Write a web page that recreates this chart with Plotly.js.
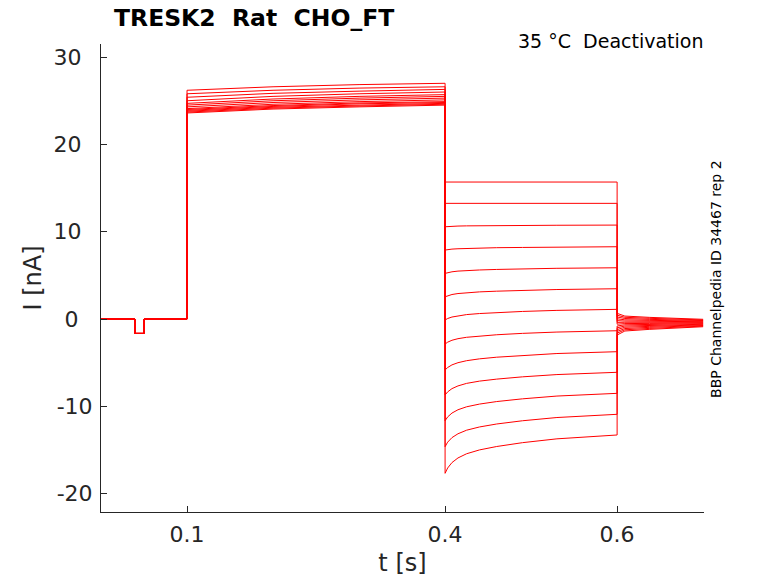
<!DOCTYPE html>
<html>
<head>
<meta charset="utf-8">
<script src="https://cdn.plot.ly/plotly-3.0.1.min.js"></script>
<style>
  body { margin: 0; background: #fff; }
  #plot { width: 778px; height: 583px; }
</style>
</head>
<body>
<div id="plot"></div>
<script>
// holding + small leak test pulse (same for every sweep)
var tPre = [0, 0.0395, 0.0395, 0.05, 0.05, 0.1];
var iPre = [0, 0, -1.65, -1.65, 0, 0];

// activating step, 0.1 - 0.4 s
var tAct = [0.1, 0.2, 0.3, 0.4];
var iAct = [
  [26.2, 26.6, 26.85, 27.0],
  [25.8, 26.2, 26.45, 26.6],
  [25.4, 25.85, 26.1, 26.3],
  [25.0, 25.5, 25.8, 26.0],
  [24.7, 25.2, 25.5, 25.7],
  [24.5, 25.0, 25.3, 25.5],
  [24.3, 24.8, 25.1, 25.3],
  [24.1, 24.6, 24.9, 25.1],
  [24.0, 24.45, 24.75, 24.9],
  [23.9, 24.35, 24.65, 24.8],
  [23.8, 24.25, 24.5, 24.7],
  [23.7, 24.15, 24.4, 24.6],
  [23.6, 24.05, 24.3, 24.5]
];

// deactivation steps, 0.4 - 0.6 s
var tDeact = [0.4, 0.403, 0.408, 0.415, 0.425, 0.44, 0.46, 0.49, 0.53, 0.6];
var iDeact = [
  [15.69, 15.69, 15.69, 15.69, 15.69, 15.69, 15.69, 15.69, 15.69, 15.69],
  [13.25, 13.25, 13.25, 13.25, 13.25, 13.25, 13.25, 13.25, 13.25, 13.25],
  [10.57, 10.60, 10.62, 10.65, 10.67, 10.69, 10.70, 10.72, 10.74, 10.76],
  [7.90, 7.95, 8.01, 8.05, 8.09, 8.13, 8.17, 8.20, 8.24, 8.28],
  [5.23, 5.32, 5.41, 5.49, 5.56, 5.62, 5.68, 5.74, 5.81, 5.87],
  [2.55, 2.68, 2.81, 2.92, 3.02, 3.11, 3.19, 3.29, 3.38, 3.47],
  [-0.11, 0.06, 0.23, 0.38, 0.51, 0.63, 0.74, 0.87, 0.99, 1.11],
  [-2.86, -2.65, -2.43, -2.25, -2.09, -1.93, -1.80, -1.64, -1.49, -1.34],
  [-5.84, -5.55, -5.25, -5.00, -4.77, -4.56, -4.37, -4.16, -3.95, -3.74],
  [-8.70, -8.34, -7.97, -7.66, -7.37, -7.11, -6.88, -6.62, -6.36, -6.10],
  [-11.65, -11.21, -10.77, -10.39, -10.05, -9.74, -9.45, -9.14, -8.82, -8.51],
  [-14.62, -14.10, -13.58, -13.14, -12.73, -12.36, -12.02, -11.65, -11.28, -10.91],
  [-17.67, -17.06, -16.44, -15.91, -15.43, -14.99, -14.60, -14.16, -13.72, -13.28]
];

// tail currents after 0.6 s
var tTail = [0.6, 0.609, 0.638, 0.7];
var iTail = [
  [0.65, 0.34, 0.19, -0.03],
  [0.44, 0.20, 0.08, -0.10],
  [0.24, 0.06, -0.04, -0.17],
  [0.03, -0.09, -0.15, -0.24],
  [-0.18, -0.23, -0.27, -0.31],
  [-0.38, -0.37, -0.38, -0.38],
  [-0.59, -0.52, -0.50, -0.46],
  [-0.80, -0.66, -0.61, -0.53],
  [-1.00, -0.80, -0.72, -0.60],
  [-1.21, -0.94, -0.84, -0.67],
  [-1.42, -1.09, -0.95, -0.74],
  [-1.62, -1.23, -1.07, -0.81],
  [-1.83, -1.37, -1.18, -0.88]
];

var xTicks = [0.1, 0.4, 0.6];
var xTickLabels = ['0.1', '0.4', '0.6'];
var yTicks = [-20, -10, 0, 10, 20, 30];
var yTickLabels = ['-20', '-10', '0', '10', '20', '30'];

var traces = [];
for (var i = 0; i < iAct.length; i++) {
  traces.push({
    x: tPre.concat(tAct, tDeact, tTail),
    y: iPre.concat(iAct[i], iDeact[i], iTail[i]),
    type: 'scatter',
    mode: 'lines',
    line: {color: '#ff0000', width: 1},
    hoverinfo: 'skip'
  });
}

// matlab puts the positive labels a bit left of the minus ones
function padLabel(s) {
  if (s.charAt(0) == '-') return s;
  return s.length == 1 ? s + '\u2007' : s + '\u2002';
}

var font = 'DejaVu Sans, sans-serif';
var axCol = '#262626';

var layout = {
  width: 778,
  height: 583,
  margin: {l: 101, r: 74, t: 44, b: 71},
  paper_bgcolor: '#fff',
  plot_bgcolor: '#fff',
  showlegend: false,
  hovermode: false,
  font: {family: font, color: axCol},
  xaxis: {
    range: [0, 0.701],
    tickvals: xTicks,
    ticktext: xTickLabels,
    ticks: 'inside',
    ticklen: 6,
    tickcolor: axCol,
    tickfont: {size: 22, color: axCol},
    ticklabelstandoff: 3,
    showline: true,
    linecolor: axCol,
    linewidth: 1,
    showgrid: false,
    zeroline: false,
    title: {text: 't [s]', font: {size: 24, color: axCol}, standoff: 7}
  },
  yaxis: {
    range: [-22.1, 31.5],
    tickvals: yTicks,
    ticktext: yTickLabels.map(padLabel),
    ticks: 'inside',
    ticklen: 6,
    tickcolor: axCol,
    tickfont: {size: 22, color: axCol},
    ticklabelstandoff: 3,
    showline: true,
    linecolor: axCol,
    linewidth: 1,
    showgrid: false,
    zeroline: false,
    title: {text: 'I [nA]', font: {size: 24, color: axCol}, standoff: 5}
  },
  annotations: [
    {
      text: '<b>TRESK2  Rat  CHO_FT</b>',
      xref: 'paper', yref: 'paper',
      x: 0.018, y: 1.0556,
      xanchor: 'left', yanchor: 'middle',
      showarrow: false,
      font: {size: 23.5, color: '#000'}
    },
    {
      text: '35 °C  Deactivation',
      xref: 'paper', yref: 'paper',
      x: 1.002, y: 1.0064,
      xanchor: 'right', yanchor: 'middle',
      showarrow: false,
      font: {size: 19, color: '#000'}
    },
    {
      text: 'BBP Channelpedia ID 34467 rep 2',
      xref: 'paper', yref: 'paper',
      x: 1.0199, y: 0.498,
      xanchor: 'center', yanchor: 'middle',
      textangle: -90,
      showarrow: false,
      font: {size: 14, color: '#000'}
    }
  ]
};

Plotly.newPlot('plot', traces, layout, {staticPlot: true, displayModeBar: false});
</script>
</body>
</html>
